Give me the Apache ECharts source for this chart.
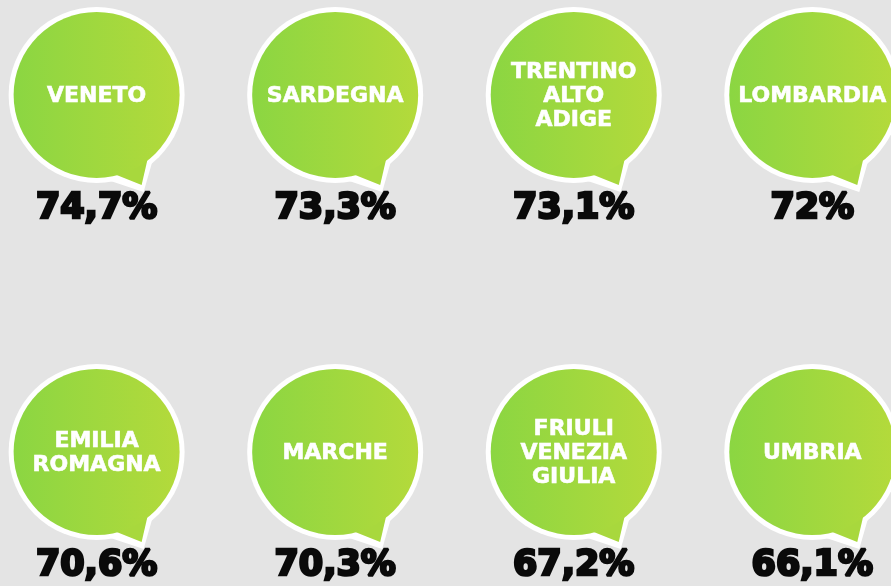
<!DOCTYPE html>
<html>
<head>
<meta charset="utf-8">
<script src="https://cdn.jsdelivr.net/npm/echarts@6/dist/echarts.min.js"></script>
<style>
html,body{margin:0;padding:0;background:#e4e4e4;}
#chart{width:891px;height:586px;}
</style>
</head>
<body>
<div id="chart"></div>
<script>
const regions = ['VENETO', 'SARDEGNA', 'TRENTINO\nALTO\nADIGE', 'LOMBARDIA',
                 'EMILIA\nROMAGNA', 'MARCHE', 'FRIULI\nVENEZIA\nGIULIA', 'UMBRIA'];
const values = [74.7, 73.3, 73.1, 72, 70.6, 70.3, 67.2, 66.1];
const columns = [0, 1, 2, 3, 0, 1, 2, 3];
const rows = [0, 0, 0, 0, 1, 1, 1, 1];

const data = regions.map((r, i) => [columns[i], rows[i], values[i]]);

function fmt(v) { return String(v).replace('.', ',') + '%'; }

const chart = echarts.init(document.getElementById('chart'), null, {renderer: 'canvas'});

chart.setOption({
  backgroundColor: '#e4e4e4',
  animation: false,
  grid: {left: 0, right: 0, top: 0, bottom: 0},
  xAxis: {type: 'value', min: -0.405, max: 3.33, show: false},
  yAxis: {type: 'value', min: -0.266, max: 1.3754, inverse: true, show: false},
  series: [{
    type: 'custom',
    data: data,
    renderItem: function (params, api) {
      const p = api.coord([api.value(0), api.value(1)]);
      const cx = p[0], cy = p[1];
      const name = regions[params.dataIndex];
      const grad = new echarts.graphic.LinearGradient(0, 0, 1, 0, [
        {offset: 0, color: '#8bd642'},
        {offset: 1, color: '#b4da3b'}
      ]);
      return {
        type: 'group',
        children: [
          {type: 'polygon', shape: {points: [[cx + 14, cy + 86], [cx + 57, cy + 62], [cx + 47, cy + 97]]},
           style: {fill: '#ffffff'}},
          {type: 'circle', shape: {cx: cx, cy: cy, r: 88}, style: {fill: '#ffffff'}},
          {type: 'polygon', shape: {points: [[cx + 20, cy + 80], [cx + 51, cy + 64], [cx + 45, cy + 90]]},
           style: {fill: '#a8d83d'}},
          {type: 'circle', shape: {cx: cx, cy: cy, r: 83}, style: {fill: grad}},
          {type: 'text', x: cx, y: cy + 1,
           style: {text: name, fill: '#ffffff', font: 'bold 22px "DejaVu Sans"',
                   stroke: '#ffffff', lineWidth: 0.6,
                   align: 'center', verticalAlign: 'middle', lineHeight: 24}},
          {type: 'text', x: cx, y: cy + 114,
           style: {text: fmt(api.value(2)), fill: '#0a0a0a', font: 'bold 35px "DejaVu Sans"',
                   stroke: '#0a0a0a', lineWidth: 2.6,
                   align: 'center', verticalAlign: 'middle'}}
        ]
      };
    }
  }]
});
</script>
</body>
</html>
